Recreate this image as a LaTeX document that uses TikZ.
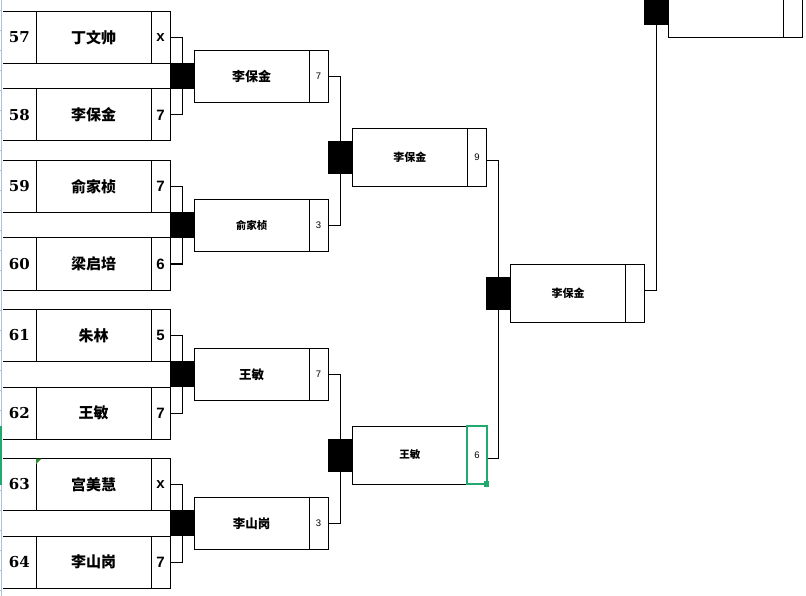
\documentclass[tikz,border=0pt]{standalone}
\usepackage{fontspec}
\usetikzlibrary{positioning,calc}
\newfontfamily\cjk{Noto Sans CJK SC}
\newfontfamily\seedf{DejaVu Serif}
\newfontfamily\scoref{Liberation Sans}
\definecolor{selgreen}{HTML}{21A96E}
\definecolor{markgreen}{HTML}{2E8B2E}
\definecolor{hdrblue}{HTML}{B4C0D8}

\begin{document}
\begin{tikzpicture}[x=1pt,y=-1pt,line width=1pt,
    cell/.style={draw,inner sep=0pt,outer sep=0pt,anchor=north west},
    blk/.style={fill=black,inner sep=0pt,outer sep=0pt,anchor=north west},
    seedtxt/.style={font=\seedf\bfseries\fontsize{15}{15}\selectfont},
    nametxt/.style={font=\cjk\bfseries\fontsize{#1}{#1}\selectfont},
    sctxt/.style={font=\scoref\fontsize{9.5}{9.5}\selectfont}]
  \useasboundingbox (0,0) rectangle (806,596);
  % primera ronda
  \foreach \sd/\y/\nm/\sc in {57/11.5/丁文帅/x, 58/89/李保金/7, 59/160.5/俞家桢/7,
      60/238/梁启培/6, 61/309.5/朱林/5, 62/387/王敏/7, 63/458.5/宫美慧/x, 64/536/李山岗/7}{
    \node[cell,seedtxt,minimum width=33.5pt,minimum height=52pt] (n\sd) at (2.5,\y) {\sd};
    \node[cell,nametxt=15,minimum width=115pt,minimum height=52pt,right=0pt of n\sd] (m\sd) {\nm};
    \node[cell,font=\scoref\bfseries\fontsize{15}{15}\selectfont,minimum width=19pt,
      minimum height=52pt,right=0pt of m\sd] (s\sd) {\sc};
  }
  \foreach \g in {1,...,4}
    \node[blk,minimum width=24pt,minimum height=26pt] (k\g) at (170,{63+149*(\g-1)}) {};
  \foreach \a/\b/\g in {57/58/1, 59/60/2, 61/62/3, 63/64/4}{
    \draw (s\a.east) -| (k\g.north);
    \draw (k\g.south) |- (s\b.east);
  }
  % segunda ronda
  \foreach \i/\y/\nm/\fs/\sc in {1/50.3/李保金/13/7, 2/199.3/俞家桢/10.5/3,
      3/348.3/王敏/12.5/7, 4/497.3/李山岗/12.5/3}{
    \node[cell,nametxt=\fs,minimum width=115pt,minimum height=52pt] (w\i) at (194,\y) {\nm};
    \node[cell,sctxt,minimum width=19pt,minimum height=52pt,right=0pt of w\i] (t\i) {\sc};
  }
  \node[blk,minimum width=24pt,minimum height=32.7pt] (q1) at (328.3,141) {};
  \node[blk,minimum width=24pt,minimum height=32.7pt] (q2) at (328.3,439) {};
  \draw (t1.east) -| (q1.north);
  \draw (q1.south) |- (t2.east);
  \draw (t3.east) -| (q2.north);
  \draw (q2.south) |- (t4.east);
  % semifinal
  \node[cell,nametxt=11,minimum width=115pt,minimum height=58pt] (x1) at (352.3,128.3) {李保金};
  \node[cell,sctxt,minimum width=19.3pt,minimum height=58pt,right=0pt of x1] (u1) {9};
  \node[cell,nametxt=10.5,minimum width=115pt,minimum height=58pt] (x2) at (352.3,426) {王敏};
  \node[cell,sctxt,minimum width=19.3pt,minimum height=58pt,right=0pt of x2] (u2) {6};
  \node[blk,minimum width=24.7pt,minimum height=32.7pt] (p1) at (486,277.3) {};
  \draw ([yshift=-3pt]u1.east) -| (p1.north);
  \draw (p1.south) |- ([yshift=-3pt]u2.east);
  % final
  \node[cell,nametxt=11,minimum width=115pt,minimum height=57.7pt] (y1) at (510.7,264.3) {李保金};
  \node[cell,minimum width=18.6pt,minimum height=57.7pt,right=0pt of y1] (v1) {};
  \node[blk,minimum width=24.4pt,minimum height=32.7pt] (p2) at (644.3,-8) {};
  \draw ([yshift=2.7pt]v1.east) -| (p2.south);
  \node[cell,minimum width=114.6pt,minimum height=57.3pt] (z1) at (668.7,-20) {};
  \node[cell,minimum width=19pt,minimum height=57.3pt,right=0pt of z1] (z2) {};
  % marcas de la hoja
  \draw[selgreen,line width=2pt] (u2.north west) rectangle (u2.south east);
  \fill[selgreen] ($(u2.south east)+(-3,-2.7)$) rectangle ++(5.5,5.5);
  \fill[markgreen] (m63.north west) -- ++(5.5,0) -- ++(-5.5,5.5) -- cycle;
  \fill[white] (0,0) rectangle (3.1,596);
  \draw[hdrblue,line width=0.8pt] (1,0) -- (1,596);
  \foreach \yy in {0,20,...,580}
    \draw[hdrblue,line width=0.6pt] (0,\yy+10) -- (2.2,\yy+10);
  \fill[selgreen] (0.4,426) rectangle (2.4,485);
\end{tikzpicture}
\end{document}
